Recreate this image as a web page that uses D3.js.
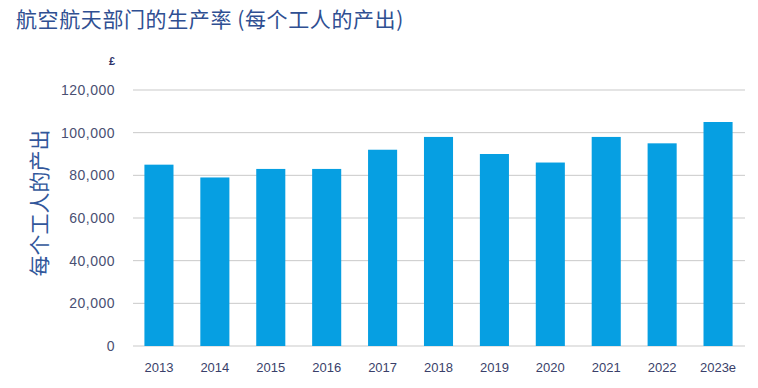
<!DOCTYPE html>
<html>
<head>
<meta charset="utf-8">
<script src="https://cdn.jsdelivr.net/npm/d3@7"></script>
<style>
  body { margin: 0; background: #fff; }
  svg { display: block; }
</style>
</head>
<body>
<div id="chart"></div>
<script>
(function () {
  let years = ['2013', '2014', '2015', '2016', '2017', '2018', '2019', '2020', '2021', '2022', '2023e'];
  let output = [85000, 79000, 83000, 83000, 92000, 98000, 90000, 86000, 98000, 95000, 105000];
  let yTicks = [0, 20000, 40000, 60000, 80000, 100000, 120000];

  let width = 758,
    height = 388;

  let svg = d3.select('#chart').append('svg')
    .attr('width', width)
    .attr('height', height);

  let xScale = d3.scaleBand()
    .domain(years)
    .range([131, 746])
    .paddingInner(0.48)
    .paddingOuter(0.24);

  let yScale = d3.scaleLinear()
    .domain([0, 120000])
    .range([346, 90]);

  // gridlines
  svg.append('g').selectAll('line.grid')
    .data(yTicks).enter()
    .append('line')
    .attr('class', 'grid')
    .attr('x1', 133)
    .attr('x2', 745)
    .attr('y1', (d) => yScale(d))
    .attr('y2', (d) => yScale(d))
    .attr('stroke', '#c9c9c9')
    .attr('stroke-width', 1);

  svg.append('g').selectAll('rect.bar')
    .data(output).enter()
    .append('rect')
    .attr('class', 'bar')
    .attr('x', (d, i) => xScale(years[i]))
    .attr('width', xScale.bandwidth())
    .attr('y', (d) => yScale(d))
    .attr('height', (d) => yScale(0) - yScale(d))
    .attr('fill', '#069fe2');

  // y tick labels
  svg.append('g').selectAll('text.ylabel')
    .data(yTicks).enter()
    .append('text')
    .attr('class', 'ylabel')
    .attr('x', 115)
    .attr('y', (d) => yScale(d))
    .attr('dominant-baseline', 'central')
    .attr('text-anchor', 'end')
    .attr('fill', '#4a4f72')
    .style('font-family', 'Liberation Sans, Arial, sans-serif')
    .style('font-size', '14px')
    .style('letter-spacing', '0.5px')
    .text((d) => d3.format(',')(d));

  svg.append('text')
    .attr('x', 112)
    .attr('y', 61)
    .attr('dominant-baseline', 'central')
    .attr('text-anchor', 'middle')
    .attr('fill', '#2c3168')
    .style('font-family', 'Liberation Sans, Arial, sans-serif')
    .style('font-size', '11px')
    .style('font-weight', 'bold')
    .text('£');

  // x labels
  svg.append('g').selectAll('text.xlabel')
    .data(years).enter()
    .append('text')
    .attr('class', 'xlabel')
    .attr('x', (d) => xScale(d) + xScale.bandwidth() / 2)
    .attr('y', 367)
    .attr('dominant-baseline', 'central')
    .attr('text-anchor', 'middle')
    .attr('fill', '#3a3f6a')
    .style('font-family', 'Liberation Sans, Arial, sans-serif')
    .style('font-size', '13px')
    .text((d) => d);

  svg.append('text')
    .attr('transform', 'translate(38,203) rotate(-90)')
    .attr('dominant-baseline', 'central')
    .attr('text-anchor', 'middle')
    .attr('fill', '#32579b')
    .style('font-family', 'Noto Sans CJK SC, sans-serif')
    .style('font-size', '21px')
    .text('每个工人的产出');

  svg.append('text')
    .attr('x', 16)
    .attr('y', 18)
    .attr('dominant-baseline', 'central')
    .attr('fill', '#2f4f92')
    .style('font-family', 'Noto Sans CJK SC, sans-serif')
    .style('font-size', '21px')
    .style('letter-spacing', '0.6px')
    .text('航空航天部门的生产率 (每个工人的产出)');
})();
</script>
</body>
</html>
